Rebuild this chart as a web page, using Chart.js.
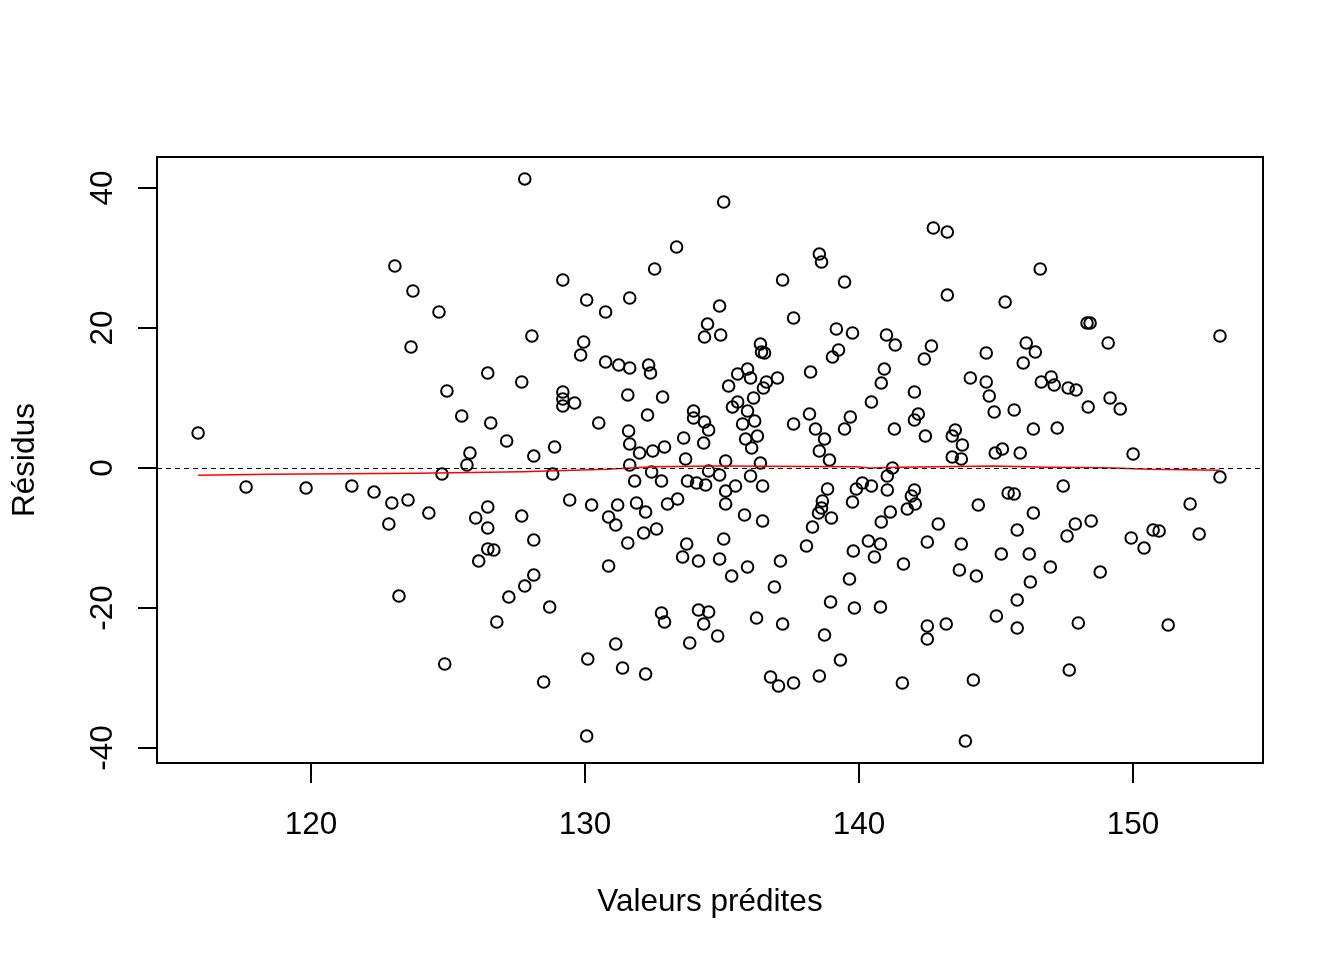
<!DOCTYPE html>
<html>
<head>
<meta charset="utf-8">
<title>Résidus vs valeurs prédites</title>
<script src="https://cdn.jsdelivr.net/npm/chart.js@4.4.1/dist/chart.umd.min.js"></script>
<style>
  html, body { margin: 0; padding: 0; background: #fff; }
  #wrap { width: 1344px; height: 960px; position: relative; }
</style>
</head>
<body>
<div id="wrap"><canvas id="residChart"></canvas></div>
<script>
// Valeurs prédites (x) et résidus (y)
const predites = [
  115.88, 123.06, 123.72, 124.67, 123.65, 124.96, 124.78, 117.63, 119.82, 121.49,
  122.30, 122.95, 123.54, 124.30, 122.84, 123.21, 124.88, 127.80, 135.06, 133.34,
  132.54, 129.19, 130.06, 131.63, 130.75, 134.91, 134.47, 134.95, 134.36, 128.06,
  129.95, 129.84, 130.75, 131.23, 131.63, 132.32, 132.39, 126.45, 127.69, 129.19,
  129.19, 129.19, 129.62, 131.56, 132.83, 125.50, 126.56, 130.50, 132.28, 133.96,
  133.96, 134.36, 134.51, 131.59, 127.14, 133.60, 134.33, 125.80, 128.13, 128.89,
  131.63, 131.99, 132.47, 132.90, 133.67, 125.69, 131.63, 128.82, 132.43, 134.51,
  134.91, 131.81, 132.79, 133.74, 134.07, 134.40, 129.44, 130.24, 131.19, 131.88,
  132.21, 133.01, 133.38, 135.13, 126.45, 126.01, 126.45, 127.69, 130.86, 131.12,
  132.14, 132.61, 131.56, 128.13, 126.45, 126.67, 126.12, 133.71, 133.56, 134.14,
  135.06, 134.91, 130.86, 128.13, 127.80, 127.22, 128.71, 126.78, 132.79, 132.90,
  134.14, 134.51, 134.33, 134.84, 133.82, 131.12, 130.10, 131.37, 132.21, 128.49,
  130.06, 142.71, 143.22, 138.55, 138.63, 137.21, 139.47, 143.22, 137.61, 139.17,
  139.76, 141.00, 141.32, 142.64, 142.38, 136.40, 136.44, 136.55, 139.25, 139.03,
  144.64, 135.93, 135.57, 136.04, 135.24, 136.62, 136.51, 137.02, 138.23, 140.92,
  140.81, 142.02, 144.06, 144.64, 144.75, 144.93, 136.15, 135.57, 135.38, 135.93,
  136.19, 135.75, 136.29, 135.86, 136.08, 135.13, 136.40, 138.19, 137.61, 138.41,
  138.74, 138.55, 138.92, 139.68, 139.47, 140.45, 141.29, 142.16, 142.02, 142.42,
  143.51, 143.40, 143.77, 143.40, 143.73, 144.97, 145.23, 141.22, 141.03, 136.04,
  135.49, 136.48, 135.13, 135.82, 136.48, 138.85, 138.66, 138.63, 138.52, 138.99,
  138.30, 140.12, 139.90, 140.45, 139.76, 141.03, 141.14, 140.81, 142.02, 141.91,
  142.05, 141.76, 142.89, 144.35, 135.35, 135.93, 137.13, 136.91, 138.08, 140.34,
  140.78, 140.56, 139.79, 139.65, 142.49, 141.62, 143.73, 143.66, 144.28, 138.96,
  139.83, 140.78, 136.26, 137.21, 138.74, 142.49, 142.49, 143.18, 145.01, 139.32,
  136.77, 137.06, 137.61, 138.55, 141.58, 144.17, 143.88, 146.61, 145.33, 148.32,
  148.43, 153.17, 149.09, 146.10, 146.43, 145.99, 147.01, 146.65, 147.12, 147.63,
  147.92, 148.36, 149.16, 149.53, 145.66, 146.36, 147.23, 145.88, 150.00, 147.45,
  145.44, 145.66, 146.36, 145.77, 147.59, 147.89, 148.47, 145.19, 146.21, 146.98,
  148.80, 146.25, 145.77, 145.77, 148.00, 147.67, 149.93, 150.40, 150.73, 150.95,
  152.08, 152.41, 153.17, 151.28
];
const residus = [
  5.00, 28.86, 25.29, 22.29, 17.29, 11.00, -0.86, -2.71, -2.86, -2.57,
  -3.43, -5.00, -4.57, -6.43, -8.00, -18.29, -28.00, 41.29, 38.00, 31.57,
  28.43, 26.86, 24.00, 24.29, 22.29, 23.14, 20.57, 19.00, 18.71, 18.86,
  18.00, 16.14, 15.14, 14.71, 14.29, 14.71, 13.57, 13.57, 12.29, 10.86,
  9.86, 8.86, 9.29, 10.43, 10.14, 7.43, 6.43, 6.43, 7.57, 8.14,
  7.14, 6.57, 5.43, 5.29, 3.86, 4.29, 3.57, 2.14, 1.71, 3.00,
  3.43, 2.14, 2.43, 3.00, 1.29, 0.43, 0.43, -0.86, -0.57, -0.43,
  -1.00, -1.86, -1.86, -1.86, -2.14, -2.43, -4.57, -5.29, -5.29, -5.00,
  -6.29, -5.14, -4.43, -5.14, -5.57, -7.14, -8.57, -6.86, -7.00, -8.14,
  -9.29, -8.71, -10.71, -10.29, -11.57, -11.71, -13.29, -10.86, -12.71, -13.29,
  -10.14, -13.00, -14.00, -15.29, -16.86, -18.43, -19.86, -22.00, -20.71, -22.00,
  -20.29, -20.57, -22.29, -24.00, -25.00, -25.14, -27.29, -28.57, -29.43, -30.57,
  -38.29, 34.29, 33.71, 30.57, 29.43, 26.86, 26.57, 24.71, 21.43, 19.86,
  19.29, 19.00, 17.57, 17.43, 15.57, 17.71, 16.57, 16.43, 16.86, 15.86,
  16.43, 14.14, 13.43, 12.86, 11.71, 12.29, 11.43, 12.86, 13.71, 14.14,
  12.14, 10.86, 12.86, 12.29, 10.29, 8.00, 10.00, 9.43, 8.71, 8.14,
  6.71, 6.29, 4.57, 4.14, 2.86, 1.00, 0.71, 7.71, 6.29, 5.57,
  4.14, 2.43, 1.14, 7.29, 5.57, 9.43, 5.57, 7.71, 6.86, 4.57,
  5.43, 4.57, 3.29, 1.57, 1.29, 2.14, 2.71, 0.00, -1.14, -1.14,
  -2.57, -2.57, -3.29, -6.71, -7.57, -3.00, -4.71, -5.71, -6.43, -7.14,
  -8.43, -2.14, -3.00, -2.57, -4.86, -3.14, -6.29, -7.71, -3.14, -4.00,
  -5.14, -5.86, -8.00, -5.29, -15.43, -14.14, -13.29, -17.00, -11.14, -10.43,
  -10.86, -12.71, -11.86, -15.86, -10.57, -13.71, -10.86, -14.57, -15.43, -19.14,
  -20.00, -19.86, -21.43, -22.29, -23.86, -22.57, -24.43, -22.29, -21.14, -27.43,
  -29.86, -31.14, -30.71, -29.71, -30.71, -30.29, -39.00, 28.43, 23.71, 20.71,
  20.71, 18.86, 17.86, 17.86, 16.57, 15.00, 13.00, 12.29, 11.86, 11.43,
  11.14, 8.71, 10.00, 8.43, 8.29, 5.57, 5.71, 2.14, 2.00, -2.57,
  -3.57, -3.71, -6.43, -8.86, -9.71, -8.00, -7.57, -12.29, -12.29, -14.14,
  -14.86, -16.29, -18.86, -22.86, -22.14, -28.86, -10.00, -11.43, -8.86, -9.00,
  -5.14, -9.43, -1.29, -22.43
];

// courbe lissée (lowess) en rouge
const lissageX = [115.88, 118.5, 123.9, 127.7, 130.8, 132.5, 134.9, 139.9, 140.4, 141.5, 144.9, 146.9, 149.0, 150.6, 153.17];
const lissageY = [-1.04, -0.9, -0.76, -0.52, -0.19, 0.19, 0.29, 0.19, 0.0, 0.1, 0.29, 0.1, 0.05, -0.19, -0.33];

const xTicks = [120, 130, 140, 150];
const yTicks = [-40, -20, 0, 20, 40];

const FONT = "'Liberation Sans', Arial, sans-serif";
const FONT_SIZE = 31.5;

const points = predites.map((x, i) => ({ x: x, y: residus[i] }));
const lissage = lissageX.map((x, i) => ({ x: x, y: lissageY[i] }));

// cadre, ligne pointillée en 0, étiquettes de l'axe y et titres (style R)
const rStyle = {
  id: "rStyle",
  afterDatasetsDraw(chart) {
    const { ctx, chartArea: a, scales } = chart;
    const y0 = Math.round(scales.y.getPixelForValue(0)) + 0.5;
    ctx.save();
    ctx.strokeStyle = "#000";
    ctx.lineWidth = 1;
    ctx.setLineDash([5, 4]);
    ctx.beginPath();
    ctx.moveTo(a.left, y0);
    ctx.lineTo(a.right, y0);
    ctx.stroke();
    ctx.setLineDash([]);
    ctx.lineWidth = 2;
    ctx.strokeRect(a.left, a.top, a.right - a.left, a.bottom - a.top);
    ctx.restore();
  },
  afterDraw(chart) {
    const { ctx, chartArea: a, scales } = chart;
    ctx.save();
    ctx.fillStyle = "#000";
    ctx.font = FONT_SIZE + "px " + FONT;
    ctx.textAlign = "center";
    ctx.textBaseline = "alphabetic";
    yTicks.forEach((v) => {
      const py = scales.y.getPixelForValue(v);
      ctx.save();
      ctx.translate(111.5, py);
      ctx.rotate(-Math.PI / 2);
      ctx.fillText(String(v), 0, 0);
      ctx.restore();
    });
    ctx.fillText("Valeurs prédites", (a.left + a.right) / 2, 911);
    ctx.save();
    ctx.translate(34, (a.top + a.bottom) / 2);
    ctx.rotate(-Math.PI / 2);
    ctx.fillText("Résidus", 0, 0);
    ctx.restore();
    ctx.restore();
  },
};

new Chart(document.getElementById("residChart"), {
  type: "scatter",
  data: {
    datasets: [
      {
        label: "Résidus",
        data: points,
        pointStyle: "circle",
        pointRadius: 5.8,
        pointBorderWidth: 2,
        pointBorderColor: "#000",
        pointBackgroundColor: "rgba(0,0,0,0)",
        order: 2,
      },
      {
        label: "Lissage",
        data: lissage,
        showLine: true,
        borderColor: "#ff0000",
        borderWidth: 1.5,
        pointRadius: 0,
        fill: false,
        order: 1,
      },
    ],
  },
  options: {
    responsive: true,
    maintainAspectRatio: false,
    animation: false,
    events: [],
    layout: { padding: { left: 0, right: 81, top: 157, bottom: 0 } },
    plugins: { legend: { display: false }, tooltip: { enabled: false } },
    scales: {
      x: {
        type: "linear",
        min: 114.38,
        max: 154.74,
        afterBuildTicks: (s) => { s.ticks = xTicks.map((v) => ({ value: v })); },
        afterFit: (s) => { s.height = 197; },
        grid: { drawOnChartArea: false, drawTicks: true, tickLength: 20, color: "#000", lineWidth: 2 },
        border: { display: false },
        ticks: { color: "#000", font: { family: FONT, size: FONT_SIZE }, padding: 23, maxRotation: 0 },
      },
      y: {
        type: "linear",
        min: -42.14,
        max: 44.43,
        afterBuildTicks: (s) => { s.ticks = yTicks.map((v) => ({ value: v })); },
        afterFit: (s) => { s.width = 157; },
        grid: { drawOnChartArea: false, drawTicks: true, tickLength: 19, color: "#000", lineWidth: 2 },
        border: { display: false },
        ticks: { display: false },
      },
    },
  },
  plugins: [rStyle],
});
</script>
</body>
</html>
